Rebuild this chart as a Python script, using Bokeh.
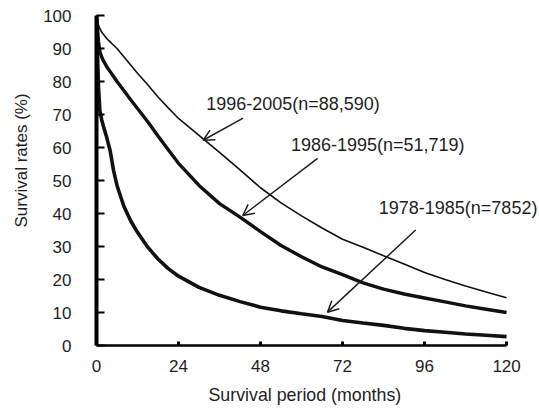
import math
from bokeh.plotting import figure
from bokeh.models import Range1d, Label, Arrow, OpenHead, FixedTicker, Title
from bokeh.embed import file_html
from bokeh.resources import INLINE

# ---- data ----
months = [0, 0.3, 0.6, 1, 1.5, 2, 3, 4, 5, 6, 8, 10, 12, 15, 18, 21, 24,
          30, 36, 42, 48, 54, 60, 66, 72, 78, 84, 90, 96, 102, 108, 114, 120]

surv_1996_2005 = [100, 98.5, 97, 96, 95, 94.3, 93, 92, 91, 90, 87.5, 85, 82.5,
                  79, 75.3, 72, 68.8, 63.7, 58.5, 53.2, 47.8, 43.2, 39.3, 35.6,
                  32.2, 29.8, 27.2, 24.7, 22.1, 20.0, 18.0, 16.2, 14.5]

surv_1986_1995 = [100, 96, 92, 89, 87.5, 86.3, 84.5, 83, 81.5, 80, 77.3, 74.5,
                  71.8, 67.8, 63.5, 59.3, 55.2, 48.5, 43, 38.9, 34.5, 30.3, 26.9,
                  23.8, 21.5, 19.0, 17.1, 15.6, 14.4, 13.2, 12.0, 11.0, 10.0]

surv_1978_1985 = [100, 88, 78, 71, 68.5, 66.5, 63, 59, 53, 48.5, 42.2, 37.8,
                  34.3, 29.8, 26.2, 23.3, 21, 17.6, 15.2, 13.3, 11.6, 10.5, 9.6,
                  8.8, 7.6, 6.8, 6.1, 5.2, 4.5, 4.0, 3.5, 3.1, 2.7]

x_ticks = [0, 24, 48, 72, 96, 120]
y_ticks = [0, 10, 20, 30, 40, 50, 60, 70, 80, 90, 100]

x_title = "Survival period (months)"
y_title = "Survival rates (%)"

series_labels = ["1996-2005(n=88,590)", "1986-1995(n=51,719)", "1978-1985(n=7852)"]
label_x = [32.1, 56.9, 82.6]
label_y = [73.1, 60.9, 41.8]
arrow_tail_x = [42.9, 64.7, 93.4]
arrow_tail_y = [68.9, 56.7, 35.0]
arrow_head_x = [31.2, 42.8, 67.6]
arrow_head_y = [62.2, 39.4, 10.1]

# ---- figure ----
FONT = "Liberation Sans"
INK = "#1e1e1e"

p = figure(width=539, height=415, output_backend="svg", toolbar_location=None,
           x_range=Range1d(0, 129.64), y_range=Range1d(0, 104.55),
           min_border_left=95, min_border_right=0, min_border_top=0,
           min_border_bottom=70)
p.outline_line_color = None
p.xgrid.visible = False
p.ygrid.visible = False
p.background_fill_color = "white"
p.border_fill_color = "white"

xa = p.xaxis[0]
xa.ticker = FixedTicker(ticks=x_ticks)
xa.bounds = (0, 120)
xa.axis_line_width = 2.5
xa.axis_line_color = "black"
xa.major_tick_in = 4
xa.major_tick_out = 0
xa.major_tick_line_width = 3
xa.minor_tick_line_color = None
xa.major_label_standoff = 14
xa.major_label_text_font = FONT
xa.major_label_text_font_size = "17px"
xa.major_label_text_color = INK

ya = p.yaxis[0]
ya.ticker = FixedTicker(ticks=y_ticks)
ya.bounds = (0, 100)
ya.axis_line_width = 4
ya.axis_line_color = "black"
ya.major_tick_in = 8
ya.major_tick_out = 0
ya.major_tick_line_width = 2
ya.minor_tick_line_color = None
ya.major_label_standoff = 25
ya.major_label_text_font = FONT
ya.major_label_text_font_size = "17px"
ya.major_label_text_color = INK

# ---- axis titles ----
p.add_layout(Title(text=x_title, align="left", offset=112, standoff=17,
                   text_font=FONT, text_font_size="17.8px",
                   text_font_style="normal", text_color=INK), "below")
p.add_layout(Title(text=y_title, align="left", offset=118, standoff=19,
                   text_font=FONT, text_font_size="17px",
                   text_font_style="normal", text_color=INK), "left")

# ---- curves ----
p.line(months, surv_1996_2005, line_width=1.6, line_color="#111111")
p.line(months, surv_1986_1995, line_width=3.4, line_color="#111111")
p.line(months, surv_1978_1985, line_width=3.6, line_color="#111111")

# ---- annotations ----
for i in range(3):
    p.add_layout(Arrow(end=OpenHead(size=11, line_width=1.5, line_color=INK),
                       x_start=arrow_tail_x[i], y_start=arrow_tail_y[i],
                       x_end=arrow_head_x[i], y_end=arrow_head_y[i],
                       line_width=1.5, line_color=INK))
    p.add_layout(Label(x=label_x[i], y=label_y[i], text=series_labels[i],
                       text_font=FONT, text_font_size="18px",
                       text_baseline="middle", text_align="left",
                       text_color=INK))

open("out.html", "w").write(file_html(p, INLINE))
